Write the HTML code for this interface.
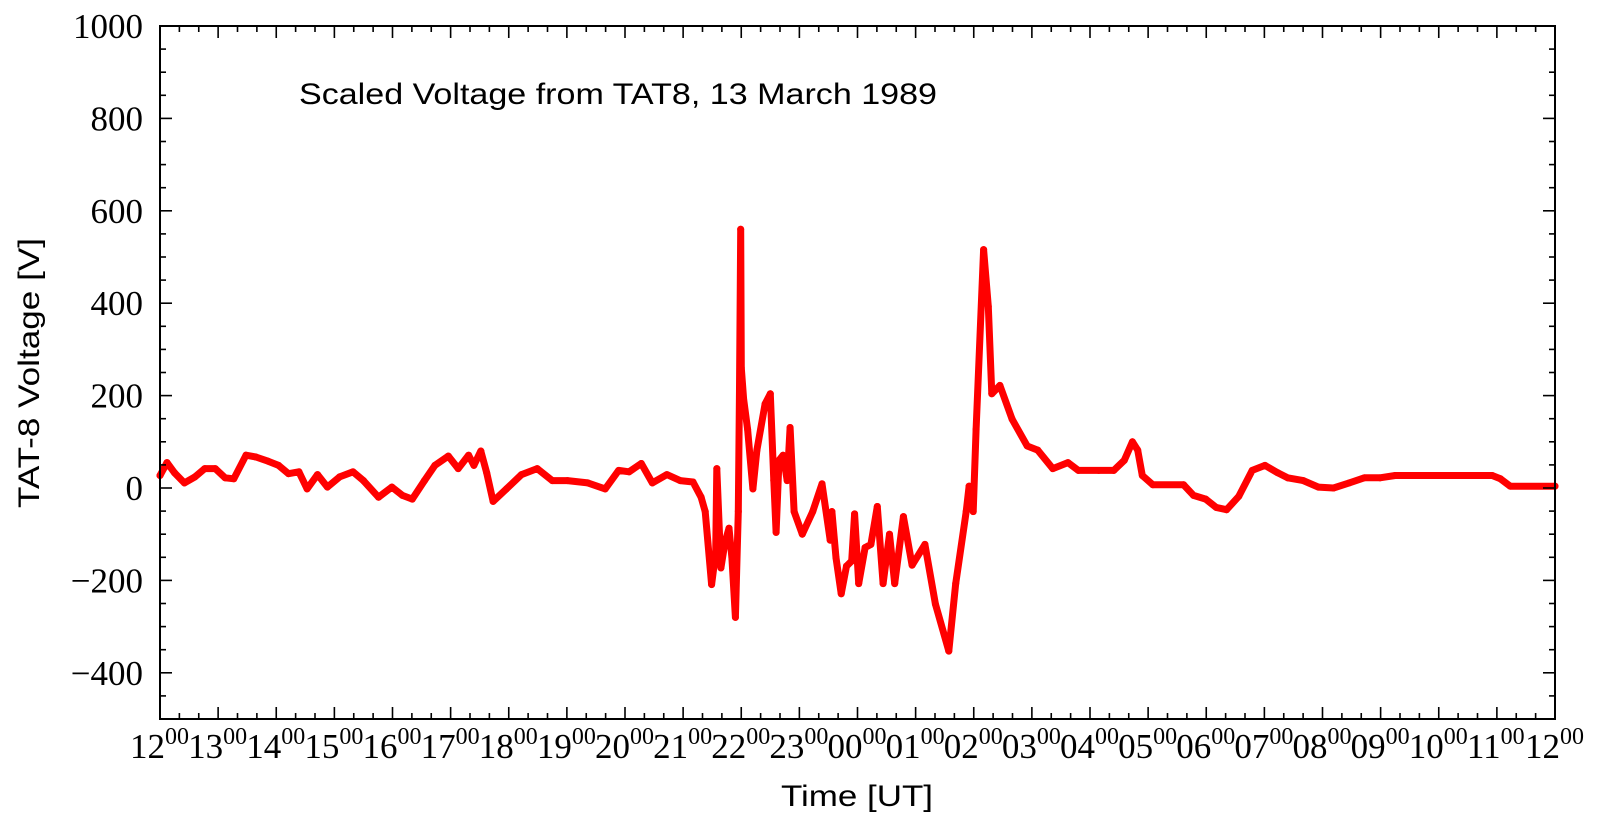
<!DOCTYPE html>
<html><head><meta charset="utf-8"><style>
html,body{margin:0;padding:0;background:#fff;}
svg{display:block;}
.tk{font-family:"Liberation Serif",serif;font-size:35px;fill:#000;}
.sf{font-family:"Liberation Sans",sans-serif;font-size:30px;fill:#000;}
</style></head><body>
<svg id="chart" width="1602" height="828" viewBox="0 0 1602 828">
<rect x="0" y="0" width="1602" height="828" fill="#fff"/>
<g id="series"></g>
<g id="axes"></g>
<text class="sf" x="299" y="104" textLength="638" lengthAdjust="spacingAndGlyphs">Scaled Voltage from TAT8, 13 March 1989</text>
<text class="sf" x="857" y="806" text-anchor="middle" textLength="152" lengthAdjust="spacingAndGlyphs">Time [UT]</text>
<text class="sf" transform="translate(39,373) rotate(-90)" text-anchor="middle" textLength="270" lengthAdjust="spacingAndGlyphs">TAT-8 Voltage [V]</text>
</svg>
<script>
const hours = [0,0.12,0.25,0.42,0.6,0.77,0.95,1.12,1.27,1.48,1.65,1.86,2.04,2.21,2.39,2.53,2.71,2.88,3.09,3.32,3.5,3.76,3.99,4.17,4.34,4.55,4.73,4.96,5.13,5.31,5.4,5.52,5.62,5.73,5.96,6.22,6.49,6.75,7.01,7.36,7.66,7.89,8.07,8.28,8.47,8.72,8.95,9.17,9.31,9.38,9.49,9.56,9.58,9.65,9.72,9.79,9.84,9.9,9.95,9.97,9.99,10.0,10.04,10.11,10.2,10.27,10.41,10.5,10.56,10.6,10.65,10.72,10.79,10.84,10.91,11.05,11.23,11.39,11.53,11.56,11.63,11.72,11.81,11.9,11.95,12.02,12.13,12.23,12.34,12.44,12.55,12.64,12.79,12.94,13.16,13.34,13.57,13.69,13.87,13.92,13.99,14.04,14.17,14.25,14.31,14.45,14.66,14.92,15.1,15.36,15.62,15.8,16.15,16.41,16.59,16.73,16.82,16.9,17.08,17.61,17.78,17.99,18.17,18.35,18.56,18.79,19.01,19.23,19.4,19.67,19.93,20.19,20.46,20.72,20.99,21.25,22.92,23.06,23.23,24];
const volts = [27,55,33,11,24,42,42,22,20,71,67,58,49,31,35,-2,29,2,24,35,16,-20,2,-16,-24,16,49,69,42,71,49,80,33,-29,-2,29,42,16,16,11,-2,38,35,53,11,29,16,13,-20,-51,-209,-140,42,-173,-118,-87,-151,-280,-51,216,560,260,193,127,-2,82,182,204,16,-96,60,71,16,131,-51,-100,-51,9,-113,-51,-151,-229,-169,-158,-56,-207,-129,-122,-40,-207,-100,-207,-62,-167,-122,-251,-353,-207,-51,4,-51,127,516,393,204,222,149,91,82,42,55,38,38,38,60,100,82,27,7,7,-16,-24,-42,-47,-18,38,49,33,22,16,2,0,11,22,22,27,27,20,4,4];
const xTickHours = [0,1,2,3,4,5,6,7,8,9,10,11,12,13,14,15,16,17,18,19,20,21,22,23,24];
const xTickLabels = ["12","13","14","15","16","17","18","19","20","21","22","23","00","01","02","03","04","05","06","07","08","09","10","11","12"];
const yTicks = [-400,-200,0,200,400,600,800,1000];
const yTickLabels = ["\u2212400","\u2212200","0","200","400","600","800","1000"];

const X0=160,X1=1555,YT=26,YB=719,VMIN=-500,VMAX=1000,HMAX=24;
const xs=h=>X0+(X1-X0)*h/HMAX;
const ys=v=>YB-(YB-YT)*(v-VMIN)/(VMAX-VMIN);
const NS="http://www.w3.org/2000/svg";
function mk(tag,attrs,parent){const e=document.createElementNS(NS,tag);for(const k in attrs)e.setAttribute(k,attrs[k]);parent.appendChild(e);return e;}

const series=document.getElementById('series');
let d=hours.map((h,i)=>(i?'L':'M')+xs(h).toFixed(1)+' '+ys(volts[i]).toFixed(1)).join(' ');
const line=mk('path',{d:d,fill:'none',stroke:'#ff0000','stroke-width':7,'stroke-linejoin':'round','stroke-linecap':'round'},series);


hours.forEach((h,i)=>{
  const c=mk('circle',{cx:xs(h),cy:ys(volts[i]),r:3.5,fill:'#ff0000'},series);
  
  
});

const axes=document.getElementById('axes');
const frame=mk('rect',{x:X0,y:YT,width:X1-X0,height:YB-YT,fill:'none',stroke:'#000','stroke-width':2},axes);


for(let m=0;m<=HMAX*3;m++){
  const x=xs(m/3),L=(m%3===0)?12:6;
  mk('line',{x1:x,y1:YB,x2:x,y2:YB-L,stroke:'#000','stroke-width':1.6},axes);
  mk('line',{x1:x,y1:YT,x2:x,y2:YT+L,stroke:'#000','stroke-width':1.6},axes);
}
xTickHours.forEach((h,i)=>{
  const t=mk('text',{x:xs(h)-30,y:758,class:'tk'},axes);
  
  
  t.textContent=xTickLabels[i];
  const s=mk('tspan',{dy:-14,'font-size':'24px'},t);
  s.textContent='00';
});
for(let v=VMIN;v<=VMAX;v+=50){
  const y=ys(v),L=(v%200===0)?12:6;
  mk('line',{x1:X0,y1:y,x2:X0+L,y2:y,stroke:'#000','stroke-width':1.6},axes);
  mk('line',{x1:X1,y1:y,x2:X1-L,y2:y,stroke:'#000','stroke-width':1.6},axes);
}
yTicks.forEach((v,i)=>{
  const t=mk('text',{x:143,y:ys(v)+12,'text-anchor':'end',class:'tk'},axes);
  
  
  t.textContent=yTickLabels[i];
});
</script>
</body></html>
